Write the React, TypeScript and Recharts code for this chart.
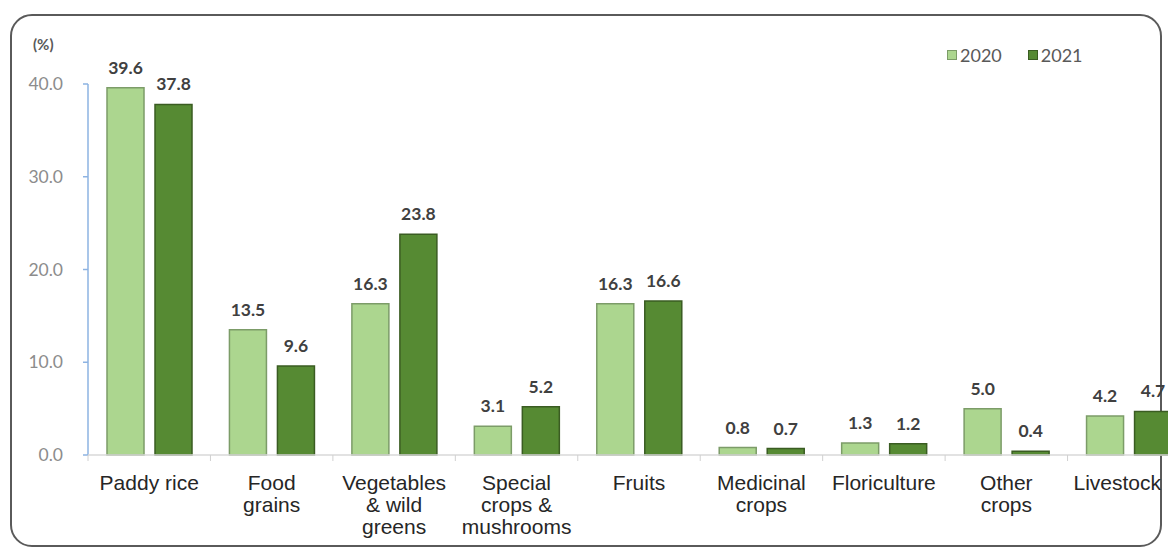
import React from "react";
import { BarChart, Bar, XAxis, YAxis, LabelList } from "recharts";

const categoryLines: string[][] = [
  ["Paddy rice"],
  ["Food", "grains"],
  ["Vegetables", "& wild", "greens"],
  ["Special", "crops &", "mushrooms"],
  ["Fruits"],
  ["Medicinal", "crops"],
  ["Floriculture"],
  ["Other", "crops"],
  ["Livestock"],
];
const values2020 = [39.6, 13.5, 16.3, 3.1, 16.3, 0.8, 1.3, 5.0, 4.2];
const values2021 = [37.8, 9.6, 23.8, 5.2, 16.6, 0.7, 1.2, 0.4, 4.7];
const yTicks = [0, 10, 20, 30, 40];
const seriesNames = ["2020", "2021"];

const data = categoryLines.map((lines, i) => ({
  name: lines.join(" "),
  v2020: values2020[i],
  v2021: values2021[i],
}));

const CHART_W = 1190;
const CHART_H = 551;
const Y_W = 88;
const X_H = 96;
const MARGIN = { top: 84, right: 0, bottom: 0, left: 0 };
const BAND = (CHART_W - Y_W - MARGIN.left - MARGIN.right) / categoryLines.length;
const VISIBLE_RIGHT = 1161;

const LIGHT = "#acd68f";
const LIGHT_STROKE = "#7c9c68";
const DARK = "#568a33";
const DARK_STROKE = "#3a5c22";
const colors = [LIGHT, DARK];
const strokes = [LIGHT_STROKE, DARK_STROKE];

const CategoryTick = (props: any) => {
  const { x, y, index } = props;
  const lines = categoryLines[index] || [];
  const bx = x - BAND / 2;
  const isLast = index === categoryLines.length - 1;
  const tx = isLast ? VISIBLE_RIGHT : x;
  const anchor = isLast ? "end" : "middle";
  return (
    <g>
      <line x1={bx} x2={bx} y1={y} y2={y + 6} stroke="#d0d0d0" strokeWidth={1} />
      <text
        x={tx}
        y={y}
        textAnchor={anchor}
        fill="#262626"
        fontFamily="'Liberation Sans', Arial, sans-serif"
        fontSize={21}
      >
        {lines.map((l, i) => (
          <tspan key={i} x={tx} dy={i === 0 ? 35 : 22}>
            {l}
          </tspan>
        ))}
      </text>
    </g>
  );
};

export default function App() {
  return (
    <div
      style={{
        position: "absolute",
        left: 0,
        top: 0,
        width: 1168,
        height: 551,
        overflow: "hidden",
        background: "#fff",
      }}
    >
      <div
        style={{
          position: "absolute",
          left: 10,
          top: 14,
          width: 1152,
          height: 533,
          border: "2px solid #5a5a5a",
          borderRadius: 22,
          boxSizing: "border-box",
        }}
      />
      <div
        style={{
          position: "absolute",
          left: 33,
          top: 35,
          fontFamily: "Lato, sans-serif",
          fontSize: 15,
          fontWeight: 700,
          color: "#595959",
        }}
      >
        (%)
      </div>
      <div
        style={{
          position: "absolute",
          left: 947,
          top: 44,
          display: "flex",
          alignItems: "center",
        }}
      >
        {seriesNames.map((n, i) => (
          <div key={n} style={{ display: "flex", alignItems: "center", marginRight: 26 }}>
            <span
              style={{
                display: "inline-block",
                width: 10,
                height: 10,
                boxSizing: "border-box",
                background: colors[i],
                border: `1px solid ${strokes[i]}`,
                marginRight: 3,
              }}
            />
            <span style={{ fontFamily: "Lato, sans-serif", fontSize: 18, color: "#595959" }}>{n}</span>
          </div>
        ))}
      </div>
      <div style={{ position: "absolute", left: 0, top: 0 }}>
        <BarChart
          width={CHART_W}
          height={CHART_H}
          data={data}
          margin={MARGIN}
          barSize={37}
          barGap={11}
        >
          <YAxis
            width={Y_W}
            domain={[0, 40]}
            ticks={yTicks}
            interval={0}
            tickFormatter={(v: number) => v.toFixed(1)}
            axisLine={{ stroke: "#8db3e2", strokeWidth: 1.5 }}
            tickLine={{ stroke: "#8db3e2", strokeWidth: 1.5 }}
            tickSize={5}
            tickMargin={20}
            tick={{ fill: "#8c8c8c", fontSize: 17.5, fontFamily: "Lato, sans-serif" }}
          />
          <XAxis
            dataKey="name"
            interval={0}
            height={X_H}
            axisLine={{ stroke: "#d9d9d9", strokeWidth: 1.5 }}
            tickLine={false}
            tickSize={0}
            tickMargin={0}
            tick={<CategoryTick />}
          />
          <Bar
            dataKey="v2020"
            name={seriesNames[0]}
            fill={LIGHT}
            stroke={LIGHT_STROKE}
            strokeWidth={1.5}
            isAnimationActive={false}
          >
            <LabelList
              dataKey="v2020"
              position="top"
              offset={14}
              formatter={(v: number) => v.toFixed(1)}
              fill="#404040"
              fontSize={17.5}
              fontWeight={700}
              fontFamily="Lato, sans-serif"
            />
          </Bar>
          <Bar
            dataKey="v2021"
            name={seriesNames[1]}
            fill={DARK}
            stroke={DARK_STROKE}
            strokeWidth={1.5}
            isAnimationActive={false}
          >
            <LabelList
              dataKey="v2021"
              position="top"
              offset={14}
              formatter={(v: number) => v.toFixed(1)}
              fill="#404040"
              fontSize={17.5}
              fontWeight={700}
              fontFamily="Lato, sans-serif"
            />
          </Bar>
        </BarChart>
      </div>
    </div>
  );
}
